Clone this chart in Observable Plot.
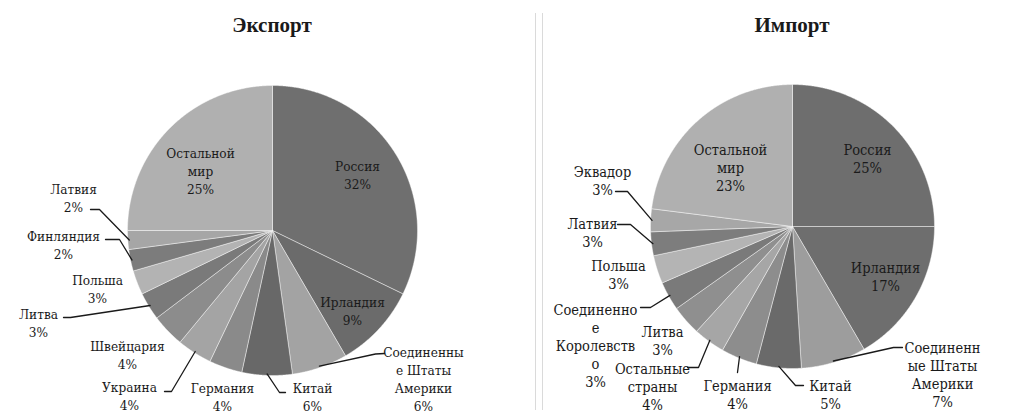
<!DOCTYPE html>
<html>
<head>
<meta charset="utf-8">
<script src="https://cdn.jsdelivr.net/npm/d3@7"></script>
<script src="https://cdn.jsdelivr.net/npm/@observablehq/plot@0.6"></script>
<style>
  body { margin: 0; background: #fff; }
  #wrap { position: relative; width: 1030px; height: 413px; overflow: hidden; background: #fff; }
  .panel { position: absolute; top: 0; height: 413px; }
  .panel svg { display: block; }
  .panel svg text { font-stretch: condensed; }
  .title { position: absolute; top: 13px; width: 300px; text-align: center;
           font: bold 21px/24px "Liberation Serif", serif; color: #1a1a1a; }
  .rule { position: absolute; top: 13px; height: 397px; width: 1px; background: #dadada; }
</style>
</head>
<body>
<div id="wrap"></div>
<script>
// ---------------- DATA ----------------
const exportTitle = "Экспорт";
const exportCountries = ["Россия", "Ирландия", "Соединенные Штаты Америки", "Китай", "Германия", "Украина",
  "Швейцария", "Литва", "Польша", "Финляндия", "Латвия", "Остальной мир"];
const exportShares = [32.2, 9.4, 6.2, 5.6, 3.7, 3.9, 3.7, 3.1, 2.7, 2.4, 2.1, 25.0];
const exportLabelNames = ["Россия", "Ирландия", "Соединенны\nе Штаты\nАмерики", "Китай", "Германия", "Украина",
  "Швейцария", "Литва", "Польша", "Финляндия", "Латвия", "Остальной\nмир"];

const importTitle = "Импорт";
const importCountries = ["Россия", "Ирландия", "Соединенные Штаты Америки", "Китай", "Германия", "Остальные страны",
  "Литва", "Соединенное Королевство", "Польша", "Латвия", "Эквадор", "Остальной мир"];
const importShares = [25.0, 16.6, 7.4, 5.1, 4.1, 3.6, 3.4, 3.3, 3.2, 2.7, 2.6, 23.0];
const importLabelNames = ["Россия", "Ирландия", "Соединенн\nые Штаты\nАмерики", "Китай", "Германия", "Остальные\nстраны",
  "Литва", "Соединенно\nе\nКоролевств\nо", "Польша", "Латвия", "Эквадор", "Остальной\nмир"];

// ---------------- STYLE / LAYOUT ----------------
const exportColors = ["#6f6f6f", "#6b6b6b", "#a3a3a3", "#686868", "#8a8a8a", "#a4a4a4",
  "#8c8c8c", "#7a7a7a", "#b3b3b3", "#7c7c7c", "#a6a6a6", "#b0b0b0"];
const importColors = ["#6e6e6e", "#6e6e6e", "#9d9d9d", "#6a6a6a", "#8d8d8d", "#a6a6a6",
  "#8f8f8f", "#7a7a7a", "#b4b4b4", "#7d7d7d", "#a7a7a7", "#b0b0b0"];

// label placement: offsets (px) of label centre from pie centre; leader start / elbow offsets (px)
const exportLayout = [
  {at: [85, -56]},
  {at: [80, 80]},
  {at: [151, 148], lead: [[112, 123], [103, 123.5]]},
  {at: [40, 166], lead: [[13, 162], [7, 162]]},
  {at: [-50, 166]},
  {at: [-143, 165], lead: [[-108, 161], [-101, 161]]},
  {at: [-145, 123.5]},
  {at: [-234, 91.5], lead: [[-209, 87], [-202, 87]]},
  {at: [-175, 58]},
  {at: [-209, 14], lead: [[-167, 9], [-153, 9]]},
  {at: [-199, -33], lead: [[-182, -21], [-173, -21]]},
  {at: [-72, -60]}
];
const importLayout = [
  {at: [75, -68.5]},
  {at: [93, 50]},
  {at: [150, 148], lead: [[110, 121], [101, 121]]},
  {at: [38, 167.5], lead: [[11, 159], [3, 159]]},
  {at: [-55, 167.5], lead: [[-55, 146]]},
  {at: [-140, 159.5], lead: [[-105, 141], [-94, 141]]},
  {at: [-130, 114]},
  {at: [-197, 118.5], lead: [[-152, 81], [-142, 81]]},
  {at: [-174, 48]},
  {at: [-200, 5.5], lead: [[-175, -2], [-162, -2]]},
  {at: [-190, -46], lead: [[-177, -35], [-165, -35]]},
  {at: [-62, -59.5]}
];

const FONT = "DejaVu Serif Condensed, DejaVu Serif";
const INK = "#1a1a1a";

function drawPie({title, names, shares, labelNames, colors, layout, left, W, H, cx, cy, R, fontSize}) {
  const rows = names.map((name, i) => ({name, share: shares[i], color: colors[i],
    label: labelNames[i] + "\n" + Math.round(shares[i]) + "%", lay: layout[i]}));
  const arcs = d3.pie().sort(null).value(d => d.share)(rows);

  // slice polygons in unit-radius coordinates (y up, angle 0 at 12 o'clock, clockwise)
  const slicePts = [];
  for (const a of arcs) {
    const n = Math.max(2, Math.ceil((a.endAngle - a.startAngle) / 0.005));
    slicePts.push({k: a.data.name, x: 0, y: 0, c: a.data.color});
    for (let i = 0; i <= n; i++) {
      const t = a.startAngle + (a.endAngle - a.startAngle) * i / n;
      slicePts.push({k: a.data.name, x: Math.sin(t), y: Math.cos(t), c: a.data.color});
    }
    slicePts.push({k: a.data.name, x: 0, y: 0, c: a.data.color});
  }

  const toUnit = ([dx, dy]) => ({x: dx / R, y: -dy / R});
  const labels = arcs.map(a => ({text: a.data.label, ...toUnit(a.data.lay.at)}));

  const leaderPts = [];
  for (const a of arcs) {
    const lead = a.data.lay.lead;
    if (!lead) continue;
    const mid = (a.startAngle + a.endAngle) / 2;
    for (const p of lead) leaderPts.push({k: a.data.name, ...toUnit(p)});
    leaderPts.push({k: a.data.name, x: Math.sin(mid) * 0.99, y: Math.cos(mid) * 0.99});
  }

  const svg = Plot.plot({
    width: W, height: H, margin: 0,
    style: {background: "transparent", overflow: "visible"},
    x: {domain: [-cx / R, (W - cx) / R], axis: null},
    y: {domain: [-(H - cy) / R, cy / R], axis: null},
    color: {type: "identity"},
    marks: [
      Plot.line(slicePts, {x: "x", y: "y", z: "k", fill: "c", stroke: "#ffffff",
        strokeWidth: 0.8, strokeOpacity: 0.55, curve: "linear"}),
      Plot.line(leaderPts, {x: "x", y: "y", z: "k", stroke: INK, strokeWidth: 1.3, curve: "linear"}),
      Plot.text(labels, {x: "x", y: "y", text: "text", fontSize, lineHeight: 18 / fontSize,
        fontFamily: FONT, fill: INK})
    ]
  });

  const panel = document.createElement("div");
  panel.className = "panel";
  panel.style.left = left + "px";
  panel.style.width = W + "px";
  panel.appendChild(svg);
  const t = document.createElement("div");
  t.className = "title";
  t.textContent = title;
  t.style.left = (svg.scale("x").apply(0) - 150) + "px";
  panel.appendChild(t);
  document.getElementById("wrap").appendChild(panel);
}

drawPie({title: exportTitle, names: exportCountries, shares: exportShares, labelNames: exportLabelNames,
  colors: exportColors, layout: exportLayout, left: 0, W: 535, H: 413, cx: 272, cy: 230, R: 145, fontSize: 13.5});
drawPie({title: importTitle, names: importCountries, shares: importShares, labelNames: importLabelNames,
  colors: importColors, layout: importLayout, left: 543, W: 487, H: 413, cx: 249, cy: 226, R: 142, fontSize: 14.5});

for (const x of [535, 542]) {
  const r = document.createElement("div");
  r.className = "rule";
  r.style.left = x + "px";
  document.getElementById("wrap").appendChild(r);
}
</script>
</body>
</html>
